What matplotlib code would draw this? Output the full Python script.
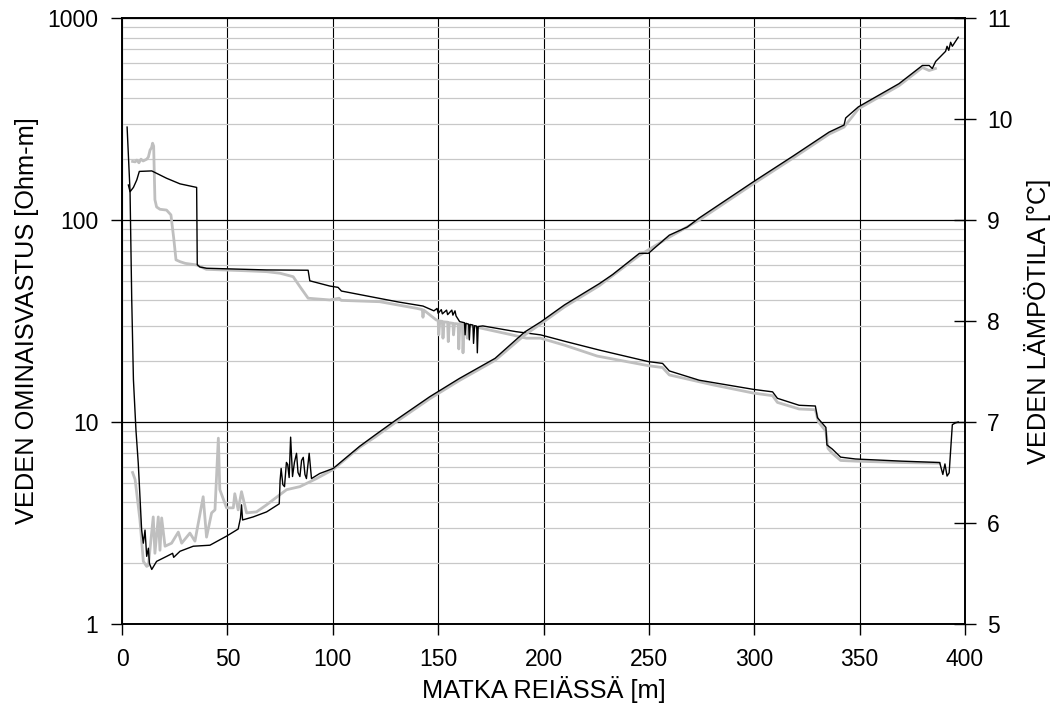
import numpy as np
import matplotlib
matplotlib.use("Agg")
import matplotlib.pyplot as plt
from matplotlib.ticker import FixedLocator, NullFormatter

plt.rcParams["font.family"] = ["Liberation Sans", "DejaVu Sans"]

# ---- resistivity, black (Ohm-m) ----
rb_x = [3.0, 3.8, 5.4, 7.0, 8.2, 14.1, 21.1, 27.5, 35.4, 35.7, 37.0, 40.1, 68.6, 88.3, 89.1, 98.6,
        102.5, 104.1, 122.3, 131.0, 142.8, 148.0, 149.5, 150.0, 151.5, 152.0, 154.0, 154.5, 156.5,
        157.0, 158.0, 158.5, 160.2, 162.5, 162.8, 163.2, 164.5, 164.8, 165.2, 166.5, 166.8, 167.3,
        168.3, 168.6, 169.0, 171.2, 187.0, 198.6, 210.7, 226.5, 249.8, 256.5, 259.7, 273.9, 289.7,
        299.7, 308.7, 311.0, 321.3, 329.0, 330.0, 334.0, 334.5, 337.0, 341.0, 348.0, 370.0, 388.0,
        389.5, 390.5, 391.5, 392.5, 394.0, 395.5, 396.8]
rb_y = [149, 138, 145, 158, 174, 175, 161, 151, 145, 60, 58.5, 57.7, 56.6, 56.4, 50.0, 47.1,
        46.4, 44.5, 40.9, 39.3, 37.5, 35.5, 36.5, 34.5, 36.0, 34.3, 35.8, 34.0, 35.8,
        33.8, 35.5, 33.5, 31.4, 31.0, 27.0, 30.8, 30.5, 25.5, 30.4, 30.2, 24.5, 30.0,
        29.8, 22.0, 29.7, 29.9, 28.0, 27.0, 25.0, 22.7, 19.9, 19.5, 17.9, 16.1, 15.1,
        14.5, 14.1, 13.1, 12.1, 12.0, 10.5, 9.4, 7.7, 7.35, 6.7, 6.56, 6.4, 6.3,
        5.5, 6.2, 5.4, 5.6, 9.7, 9.9, 10.0]

# ---- resistivity, grey ----
rg_x = [5.0, 6.2, 7.0, 8.0, 9.0, 10.0, 11.7, 12.5, 13.3, 14.0, 14.5, 15.0, 15.6, 16.4, 18.0, 21.1,
        23.2, 24.6, 25.6, 27.5, 30.0, 35.4, 40.0, 60.0, 68.6, 75.0, 81.2, 84.4, 88.3, 98.6, 103.0,
        104.0, 122.3, 140.0, 142.5, 142.8, 143.2, 149.1, 150.0, 150.3, 150.8, 152.0, 152.3, 152.8,
        154.5, 154.8, 155.3, 157.0, 157.3, 157.8, 159.5, 159.8, 160.3, 161.5, 161.8, 162.3, 163.5,
        163.8, 164.3, 170.0, 185.0, 191.8, 198.6, 210.0, 225.5, 249.8, 256.5, 259.7, 280.0, 299.7,
        308.7, 311.0, 321.3, 329.0, 330.5, 334.0, 335.0, 337.0, 341.0, 348.0, 370.0, 388.0]
rg_y = [195, 194, 198, 192, 200, 196, 200, 205, 222, 228, 240, 232, 126, 116, 113, 112,
        106, 80, 63.5, 62.2, 61, 59.9, 57, 56, 55.5, 54.5, 52.4, 46.8, 41, 40.2, 41,
        40, 39.4, 36.5, 36, 33, 35.8, 32, 31.8, 27, 31.6, 31.5, 26, 31.3,
        31.2, 25, 31, 30.8, 27, 30.7, 30.6, 23, 30.5, 30.4, 22, 30.3, 30.2,
        26, 30.1, 29.2, 27, 26, 26, 24, 21.2, 19, 18.6, 17.1, 15.3, 13.9,
        13.5, 12.5, 11.6, 11.5, 10, 9, 7.4, 7, 6.45, 6.4, 6.3, 6.25]

# ---- temperature, black (deg C) ----
tb_x = [2.4, 3.8, 4.6, 5.4, 6.6, 7.7, 8.5, 9.3, 10.1, 10.9, 11.7, 12.5, 13.0, 14.1, 16.4, 21.2,
        24.0, 24.5, 27.5, 33.8, 41.7, 49.6, 55.1, 56.2, 56.7, 57.2, 62.2, 68.6, 74.6, 75.0, 75.5,
        76.3, 77.1, 78.0, 78.6, 79.3, 80.0, 80.9, 81.8, 82.8, 83.5, 84.4, 85.2, 86.0, 86.8, 87.5,
        88.8, 89.9, 93.8, 100.2, 112.8, 120.0, 130.0, 146.0, 160.0, 177.0, 191.0, 198.6, 210.0,
        226.5, 232.8, 245.5, 249.8, 259.7, 268.2, 273.9, 299.7, 318.2, 335.5, 342.6, 343.4, 349.4,
        368.7, 379.8, 383.0, 384.5, 386.1, 390.8, 391.5, 392.3, 393.2, 394.0, 396.8]
tb_y = [9.92, 9.28, 8.21, 7.42, 6.92, 6.59, 6.26, 5.93, 5.80, 5.93, 5.67, 5.75, 5.60, 5.54, 5.62, 5.67,
        5.70, 5.66, 5.72, 5.77, 5.78, 5.87, 5.94, 6.05, 6.18, 6.03, 6.06, 6.11, 6.19, 6.42, 6.54,
        6.38, 6.36, 6.60, 6.58, 6.45, 6.85, 6.46, 6.60, 6.69, 6.50, 6.46, 6.62, 6.65, 6.48, 6.44,
        6.69, 6.44, 6.49, 6.54, 6.76, 6.87, 7.02, 7.25, 7.43, 7.63, 7.89, 7.99, 8.16,
        8.37, 8.46, 8.67, 8.67, 8.85, 8.93, 9.02, 9.38, 9.63, 9.87, 9.94, 10.01, 10.12,
        10.35, 10.53, 10.53, 10.50, 10.57, 10.67, 10.72, 10.68, 10.76, 10.72, 10.81]

# ---- temperature, grey ----
tg_x = [5.0, 6.2, 8.5, 10.1, 11.7, 12.5, 14.8, 15.6, 17.2, 18.0, 18.8, 20.4, 23.5, 26.7, 28.3,
        32.2, 34.6, 38.5, 40.1, 42.5, 44.1, 45.7, 46.4, 49.6, 52.8, 53.5, 55.1, 56.7, 59.1, 63.8,
        68.6, 74.9, 78.1, 84.4, 92.3, 100.2, 112.8, 120.0, 130.0, 146.0, 160.0, 177.0, 191.0,
        198.6, 210.0, 226.5, 245.5, 259.7, 273.9, 299.7, 318.2, 335.5, 342.6, 349.4, 368.7, 379.8,
        383.0, 386.0]
tg_y = [6.50, 6.43, 6.03, 5.62, 5.57, 5.58, 6.06, 5.70, 6.06, 5.73, 6.05, 5.77, 5.80, 5.91, 5.80,
        5.90, 5.82, 6.26, 5.86, 6.10, 6.13, 6.84, 6.33, 6.15, 6.15, 6.29, 6.13, 6.31, 6.10, 6.11,
        6.18, 6.28, 6.33, 6.36, 6.44, 6.53, 6.75, 6.85, 7.00, 7.23, 7.41, 7.61, 7.86,
        7.97, 8.14, 8.35, 8.65, 8.83, 9.00, 9.36, 9.61, 9.85, 9.92, 10.10, 10.33, 10.51,
        10.48, 10.50]

fig = plt.figure(figsize=(10.53, 7.09), dpi=100)
ax = fig.add_axes([0.1159, 0.1199, 0.8005, 0.8547])
ax2 = ax.twinx()

ax.set_yscale("log")
ax.set_xlim(0, 400)
ax.set_ylim(1, 1000)
ax2.set_ylim(5, 11)

ax.yaxis.set_major_locator(FixedLocator([1, 10, 100, 1000]))
ax.set_yticklabels(["1", "10", "100", "1000"])
ax.yaxis.set_minor_locator(FixedLocator([m * d for d in (1, 10, 100) for m in range(2, 10)]))
ax.yaxis.set_minor_formatter(NullFormatter())
ax.set_xticks(np.arange(0, 401, 50))
ax2.set_yticks(np.arange(5, 12, 1))

ax.grid(which="minor", axis="y", color="#c8c8c8", lw=0.9)
ax.grid(which="major", axis="y", color="black", lw=0.9)
ax.grid(which="major", axis="x", color="black", lw=0.8)
ax.set_axisbelow(True)

ax.plot(rg_x, rg_y, color="#bfbfbf", lw=2.0)
ax.plot(rb_x, rb_y, color="black", lw=1.0)
ax2.plot(tg_x, tg_y, color="#bfbfbf", lw=2.0)
ax2.plot(tb_x, tb_y, color="black", lw=1.0)

ax.tick_params(axis="both", which="major", direction="out", length=8, width=1, labelsize=16.5, pad=9, colors="black")
ax.tick_params(axis="y", which="minor", length=0)
ax2.tick_params(axis="y", direction="inout", length=16, width=1, labelsize=16.5, pad=8)
for a in (ax, ax2):
    for s in a.spines.values():
        s.set_color("black"); s.set_linewidth(1.2)

ax.set_xlabel("MATKA REIÄSSÄ [m]", fontsize=18.3, labelpad=4)
ax.set_ylabel("VEDEN OMINAISVASTUS [Ohm-m]", fontsize=18.3, labelpad=6)
ax2.set_ylabel("VEDEN LÄMPÖTILA [°C]", fontsize=18.3, labelpad=8)

fig.savefig("out.png", dpi=100)
